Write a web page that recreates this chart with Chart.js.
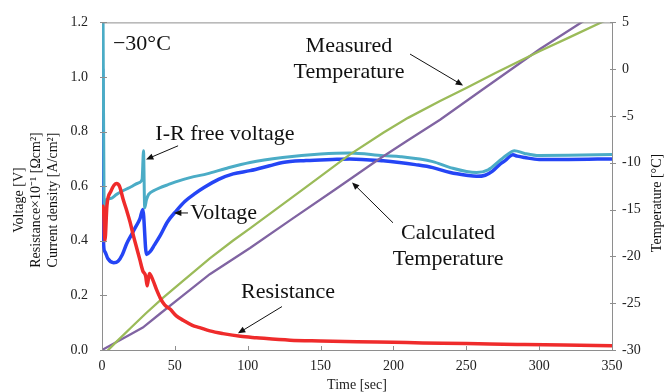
<!DOCTYPE html>
<html>
<head>
<meta charset="utf-8">
<script src="https://cdn.jsdelivr.net/npm/chart.js@4.4.1/dist/chart.umd.min.js"></script>
<style>
html, body { margin: 0; padding: 0; background: #fff; }
#wrap { width: 666px; height: 392px; }
</style>
</head>
<body>
<div id="wrap"><canvas id="coldStartChart"></canvas></div>
<script>
// values, time in sec
const voltageTime = [0.4, 1, 2, 4, 8, 11, 14, 17, 20, 23, 26, 28, 30.5, 33, 36, 40, 45, 51, 57, 63, 70, 80, 90, 101.6, 115, 124, 140, 158, 170, 193, 204, 215, 227, 239, 250, 257, 263, 268, 273, 277, 280, 282, 285, 290, 300, 320, 350];
const voltageValue = [1.03, 0.40, 0.36, 0.335, 0.32, 0.325, 0.35, 0.39, 0.42, 0.45, 0.48, 0.515, 0.35, 0.36, 0.385, 0.42, 0.47, 0.51, 0.545, 0.57, 0.595, 0.625, 0.645, 0.657, 0.675, 0.687, 0.694, 0.698, 0.70, 0.693, 0.687, 0.679, 0.668, 0.65, 0.64, 0.636, 0.64, 0.655, 0.68, 0.695, 0.71, 0.715, 0.71, 0.705, 0.698, 0.698, 0.70];

const irFreeTime = [0.7, 1.4, 2.3, 3, 6, 10, 15, 20, 25, 27.5, 28.5, 29.3, 30.5, 32, 36, 40, 45, 50, 56, 63, 72, 85, 101.6, 124, 150, 170, 193, 205, 227, 239, 257, 265, 273, 278, 283, 290, 300, 320, 350];
const irFreeValue = [1.25, 0.56, 0.505, 0.55, 0.555, 0.57, 0.585, 0.598, 0.612, 0.625, 0.73, 0.52, 0.55, 0.57, 0.585, 0.595, 0.605, 0.615, 0.625, 0.635, 0.645, 0.665, 0.687, 0.705, 0.718, 0.722, 0.712, 0.708, 0.69, 0.668, 0.65, 0.66, 0.694, 0.715, 0.73, 0.72, 0.712, 0.713, 0.716];

const resistTime = [0, 1, 2, 3.4, 6, 10, 12, 14.6, 17, 19.2, 21.5, 24, 26, 28, 30, 31, 32.5, 35, 37.5, 40, 43, 46.7, 51, 56, 62, 67, 74, 83, 95, 106, 129, 150, 175, 200, 220, 250, 266, 290, 317, 350];
const resistValue = [0.53, 0.52, 0.40, 0.53, 0.58, 0.61, 0.60, 0.55, 0.51, 0.47, 0.42, 0.37, 0.33, 0.29, 0.27, 0.235, 0.28, 0.255, 0.22, 0.19, 0.165, 0.15, 0.125, 0.108, 0.09, 0.082, 0.07, 0.06, 0.05, 0.045, 0.036, 0.033, 0.03, 0.028, 0.026, 0.024, 0.022, 0.02, 0.018, 0.016];

const measuredTime = [3, 10, 20, 30, 42, 55, 74, 90, 101.6, 120, 140, 170, 193, 210, 232, 250, 270, 300.6, 320, 344, 350];
const measuredTemp = [-30.2, -29.1, -27.6, -26.1, -24.4, -22.7, -20.2, -18.3, -17.0, -14.9, -12.6, -9.13, -6.8, -5.2, -3.4, -2.0, -0.4, 1.94, 3.35, 5.1, 5.5];

const calcTime = [0, 10, 20, 28, 40, 55, 74, 101.6, 130, 160, 188.7, 210, 232, 260, 300.6, 330, 340];
const calcTemp = [-30, -29.15, -28.3, -27.6, -26.1, -24.25, -21.9, -19.1, -16.05, -12.85, -9.75, -7.6, -5.4, -2.3, 2.15, 5.1, 6.1];

const timeTicks = [0, 50, 100, 150, 200, 250, 300, 350];

// annotations, placed in (time, voltage) units
const noteText = ['\u221230\u00b0C', 'Measured', 'Temperature', 'I-R free voltage', 'Voltage', 'Resistance', 'Calculated', 'Temperature'];
const noteTime = [7.5, 169.5, 169.5, 84.4, 60.6, 127.7, 237.5, 237.5];
const noteVolt = [1.12, 1.111, 1.016, 0.792, 0.502, 0.21, 0.426, 0.333];
const noteAlign = ['left', 'center', 'center', 'center', 'left', 'center', 'center', 'center'];

const arrowFrom = [[211.4, 1.084], [52.2, 0.748], [59, 0.502], [123.5, 0.159], [199.7, 0.466]];
const arrowTo = [[247.8, 0.969], [30.2, 0.698], [49.4, 0.502], [93.3, 0.061], [171.6, 0.614]];

const leftTitle = ['Voltage [V]', 'Resistance\u00d710\u207b\u00b9 [\u03a9cm\u00b2]', 'Current density [A/cm\u00b2]'];

const serif = '"Liberation Serif", "Times New Roman", serif';
const axisGray = '#8e8e8e';

function pts(xs, ys) {
  return xs.map((x, i) => ({x: x, y: ys[i]}));
}

const frameAndNotes = {
  id: 'frameAndNotes',
  afterDraw(chart) {
    const {ctx, chartArea: a, scales} = chart;
    const sx = scales.x, sy = scales.y, sy2 = scales.y2;
    ctx.save();
    ctx.strokeStyle = axisGray;
    ctx.lineWidth = 1;
    ctx.beginPath();
    ctx.moveTo(a.left, a.top + 0.5);
    ctx.lineTo(a.right, a.top + 0.5);
    sx.ticks.forEach(t => {
      const px = Math.round(sx.getPixelForValue(t.value)) + 0.5;
      ctx.moveTo(px, a.bottom);
      ctx.lineTo(px, a.bottom - 4);
    });
    sy.ticks.forEach(t => {
      const py = Math.round(sy.getPixelForValue(t.value)) + 0.5;
      ctx.moveTo(a.left - 2, py);
      ctx.lineTo(a.left + 5, py);
    });
    sy2.ticks.forEach(t => {
      const py = Math.round(sy2.getPixelForValue(t.value)) + 0.5;
      ctx.moveTo(a.right - 2, py);
      ctx.lineTo(a.right + 4, py);
    });
    ctx.stroke();

    // labels
    ctx.fillStyle = '#111';
    ctx.textBaseline = 'middle';
    ctx.font = '22px ' + serif;
    noteText.forEach((txt, i) => {
      ctx.textAlign = noteAlign[i];
      ctx.fillText(txt, sx.getPixelForValue(noteTime[i]), sy.getPixelForValue(noteVolt[i]));
    });

    // arrows
    ctx.strokeStyle = '#111';
    ctx.lineWidth = 1;
    arrowFrom.forEach((f, i) => {
      const x1 = sx.getPixelForValue(f[0]), y1 = sy.getPixelForValue(f[1]);
      const x2 = sx.getPixelForValue(arrowTo[i][0]), y2 = sy.getPixelForValue(arrowTo[i][1]);
      const ang = Math.atan2(y2 - y1, x2 - x1);
      ctx.beginPath();
      ctx.moveTo(x1, y1);
      ctx.lineTo(x2 - 5 * Math.cos(ang), y2 - 5 * Math.sin(ang));
      ctx.stroke();
      ctx.beginPath();
      ctx.moveTo(x2, y2);
      ctx.lineTo(x2 - 8 * Math.cos(ang - 0.4), y2 - 8 * Math.sin(ang - 0.4));
      ctx.lineTo(x2 - 8 * Math.cos(ang + 0.4), y2 - 8 * Math.sin(ang + 0.4));
      ctx.closePath();
      ctx.fill();
    });

    // axis titles, read bottom to top
    ctx.font = '14px ' + serif;
    ctx.textAlign = 'center';
    ctx.save();
    ctx.translate(19, 200);
    ctx.rotate(-Math.PI / 2);
    leftTitle.forEach((line, i) => ctx.fillText(line, 0, i * 17));
    ctx.restore();

    ctx.translate(chart.width - 9, 203);
    ctx.rotate(-Math.PI / 2);
    ctx.fillText('Temperature [\u00b0C]', 0, 0);
    ctx.restore();
  }
};

const ctx = document.getElementById('coldStartChart');

new Chart(ctx, {
  type: 'line',
  data: {
    datasets: [{
      label: 'Resistance',
      data: pts(resistTime, resistValue),
      borderColor: '#ef2b2b',
      borderWidth: 3.5,
      cubicInterpolationMode: 'monotone',
      yAxisID: 'y'
    }, {
      label: 'Measured Temperature',
      data: pts(measuredTime, measuredTemp),
      borderColor: '#9bbb59',
      borderWidth: 2.3,
      yAxisID: 'y2'
    }, {
      label: 'Calculated Temperature',
      data: pts(calcTime, calcTemp),
      borderColor: '#8064a2',
      borderWidth: 2.3,
      yAxisID: 'y2'
    }, {
      label: 'I-R free voltage',
      data: pts(irFreeTime, irFreeValue),
      borderColor: '#4bacc6',
      borderWidth: 3,
      cubicInterpolationMode: 'monotone',
      yAxisID: 'y'
    }, {
      label: 'Voltage',
      data: pts(voltageTime, voltageValue),
      borderColor: '#2545f5',
      borderWidth: 3.5,
      cubicInterpolationMode: 'monotone',
      yAxisID: 'y'
    }]
  },
  options: {
    responsive: true,
    maintainAspectRatio: false,
    animation: false,
    elements: { point: { radius: 0 } },
    layout: { padding: { top: 18, left: 0, right: 0, bottom: 0 } },
    plugins: { legend: { display: false }, tooltip: { enabled: false } },
    scales: {
      x: {
        type: 'linear',
        min: 0,
        max: 350,
        afterFit: s => { s.height = 42; },
        afterBuildTicks: s => { s.ticks = timeTicks.map(v => ({value: v})); },
        grid: { display: false, drawTicks: false },
        border: { display: true, color: axisGray, width: 1 },
        ticks: { color: '#222', padding: 8, font: { family: serif, size: 14 } },
        title: {
          display: true,
          text: 'Time [sec]',
          color: '#222',
          padding: 0,
          font: { family: serif, size: 14, lineHeight: 1 }
        }
      },
      y: {
        position: 'left',
        min: 0,
        max: 1.2,
        afterFit: s => { s.width = 102; },
        grid: { display: false, drawTicks: false },
        border: { display: true, color: axisGray, width: 1 },
        ticks: {
          stepSize: 0.2,
          color: '#222',
          padding: 14,
          font: { family: serif, size: 14 },
          callback: v => Number(v).toFixed(1)
        }
      },
      y2: {
        position: 'right',
        min: -30,
        max: 5,
        afterFit: s => { s.width = 54; },
        grid: { display: false, drawTicks: false },
        border: { display: true, color: axisGray, width: 1 },
        ticks: { stepSize: 5, color: '#222', padding: 10, font: { family: serif, size: 14 } }
      }
    }
  },
  plugins: [frameAndNotes]
});
</script>
</body>
</html>
